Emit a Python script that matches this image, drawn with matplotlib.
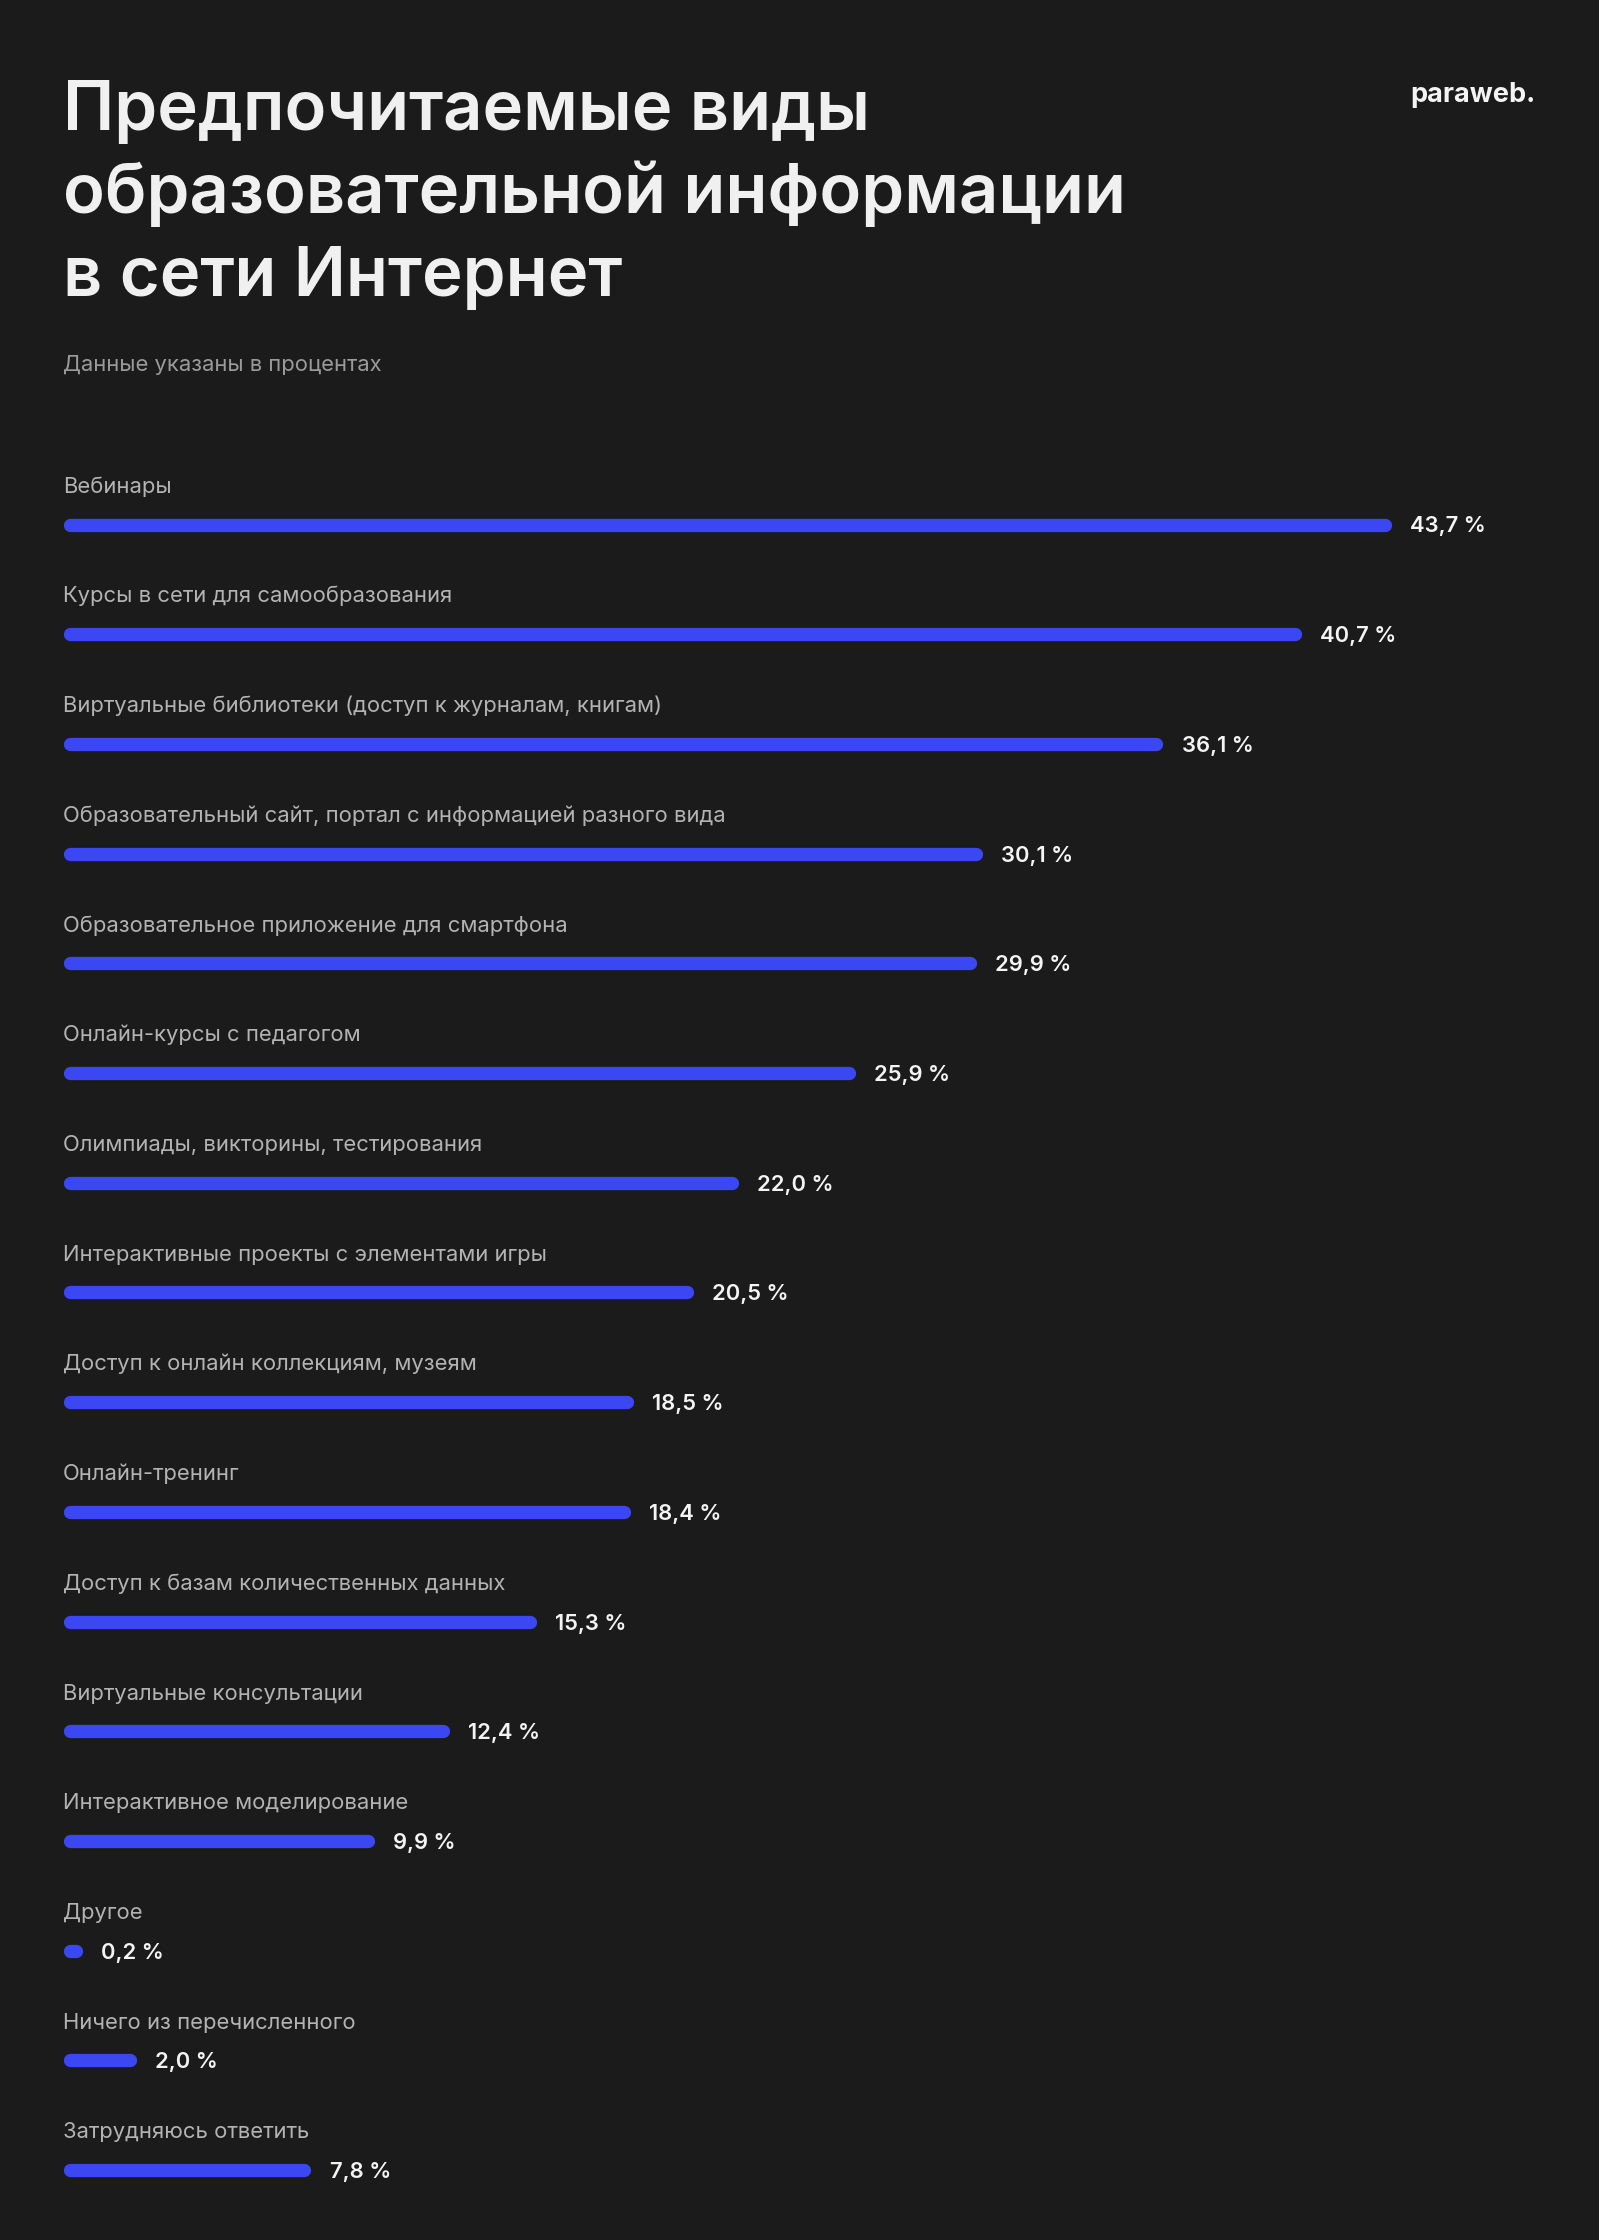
import matplotlib
matplotlib.use("Agg")
import matplotlib.pyplot as plt

categories = [
    "Вебинары",
    "Курсы в сети для самообразования",
    "Виртуальные библиотеки (доступ к журналам, книгам)",
    "Образовательный сайт, портал с информацией разного вида",
    "Образовательное приложение для смартфона",
    "Онлайн-курсы с педагогом",
    "Олимпиады, викторины, тестирования",
    "Интерактивные проекты с элементами игры",
    "Доступ к онлайн коллекциям, музеям",
    "Онлайн-тренинг",
    "Доступ к базам количественных данных",
    "Виртуальные консультации",
    "Интерактивное моделирование",
    "Другое",
    "Ничего из перечисленного",
    "Затрудняюсь ответить",
]
values = [43.7, 40.7, 36.1, 30.1, 29.9, 25.9, 22.0, 20.5, 18.5, 18.4, 15.3, 12.4, 9.9, 0.2, 2.0, 7.8]

title_lines = ["Предпочитаемые виды", "образовательной информации", "в сети Интернет"]
subtitle = "Данные указаны в процентах"
logo = "paraweb."

W, H = 1599, 2240
DPI = 100
BG = "#1b1b1b"
BAR = "#3a47f2"
FONT = ["Inter", "DejaVu Sans"]

fig = plt.figure(figsize=(W / DPI, H / DPI), dpi=DPI, facecolor=BG)

px_per_unit = 30.1
cap = 6.7
left_px = 63 + cap
width_px = 1450
first_c, step = 524.5, 109.7
n = len(categories)
top_px = first_c - 0.5 * step
bot_px = first_c + (n - 0.5) * step

ax = fig.add_axes([left_px / W, (H - bot_px) / H, width_px / W, (bot_px - top_px) / H])
ax.set_facecolor(BG)
ax.set_xlim(0, width_px / px_per_unit)
ax.set_ylim(n - 0.5, -0.5)
ax.axis("off")

pt = 72 / DPI
for i, (lab, v) in enumerate(zip(categories, values)):
    ax.plot([0, v], [i, i], color=BAR, lw=13.3 * pt, solid_capstyle="round", clip_on=False)
    ax.annotate(lab, xy=(0, i), xytext=(-cap * pt, 31.7 * pt), textcoords="offset points",
                ha="left", va="baseline", fontsize=15.85, color="#b3b3b3", family=FONT)
    ax.annotate(f"{v:.1f}".replace(".", ",") + " %", xy=(v, i),
                xytext=((cap + 18.5) * pt, -8.0 * pt), textcoords="offset points",
                ha="left", va="baseline", fontsize=15.8, fontweight="semibold",
                color="#f4f4f4", family=FONT)

for k, line in enumerate(title_lines):
    fig.text(63 / W, 1 - (130 + 83 * k) / H, line, ha="left", va="baseline",
             fontsize=49.5, fontweight="semibold", color="#f0f0f0", family=FONT)

fig.text(63 / W, 1 - 371 / H, subtitle, ha="left", va="baseline",
         fontsize=15.8, color="#9a9a9a", family=FONT)

fig.text(1536 / W, 1 - 102 / H, logo, ha="right", va="baseline",
         fontsize=19.5, fontweight="bold", color="#f4f4f4", family=FONT)

fig.savefig("out.png", dpi=DPI, facecolor=BG)
